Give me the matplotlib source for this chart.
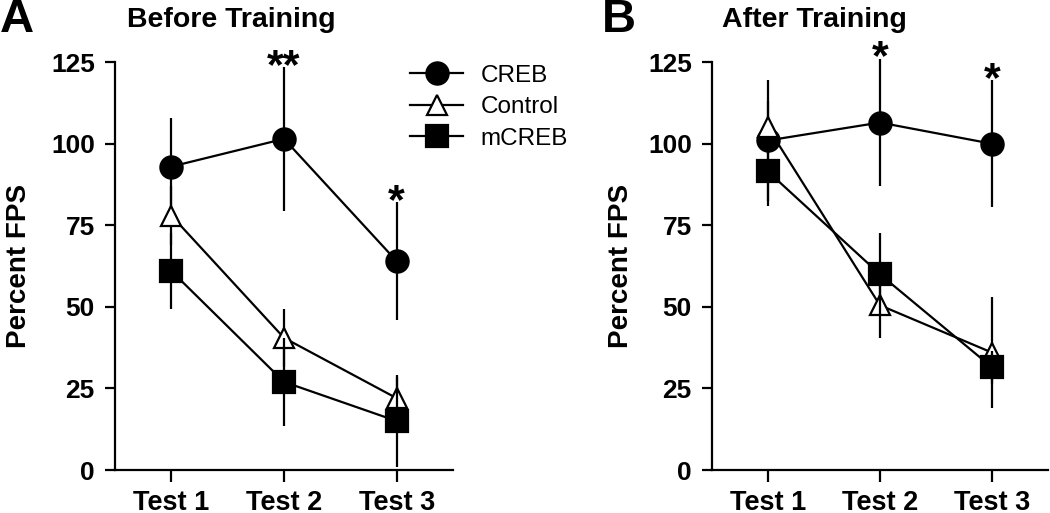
import matplotlib
matplotlib.use("Agg")
import matplotlib.pyplot as plt
from matplotlib.lines import Line2D
import numpy as np

plt.rcParams['font.family'] = ['Liberation Sans', 'DejaVu Sans']

tests = ['Test 1', 'Test 2', 'Test 3']
groups = ['CREB', 'Control', 'mCREB']

# before training (panel A)
before_mean = {'CREB': [93, 101.5, 64],
               'Control': [78, 40.5, 22],
               'mCREB': [61, 27, 15]}
before_err = {'CREB': [15, 22, 18],
              'Control': [9, 9, 6.5],
              'mCREB': [11.5, 13.5, 14]}
before_stars = ['', '**', '*']

# after training (panel B)
after_mean = {'CREB': [101, 106.5, 100],
              'Control': [105, 50.5, 36],
              'mCREB': [91.5, 60, 31.5]}
after_err = {'CREB': [18.5, 19.5, 19.5],
             'Control': [8, 10, 17],
             'mCREB': [10.5, 12.5, 5]}
after_stars = ['', '*', '*']

styles = {'CREB': dict(marker='o', mfc='black', ms=16),
          'Control': dict(marker='^', mfc='white', ms=15),
          'mCREB': dict(marker='s', mfc='black', ms=15.5)}

fig = plt.figure(figsize=(10.5, 5.13), dpi=100)
axA = fig.add_axes([0.1095, 0.0838, 0.322, 0.795])
axB = fig.add_axes([0.678, 0.0838, 0.32, 0.795])


def draw(ax, means, errs, stars, pad):
    x = np.arange(1, len(tests) + 1)
    for i, g in enumerate(groups):
        st = styles[g]
        ax.errorbar(x, means[g], yerr=errs[g], color='black', lw=1.6,
                    elinewidth=1.6, capsize=0, marker=st['marker'],
                    mfc=st['mfc'], mec='black', mew=1.6, ms=st['ms'],
                    clip_on=False, zorder=3 + i)
    top = np.array(means['CREB']) + np.array(errs['CREB'])
    for xi, t, s in zip(x, top, stars):
        if s:
            ax.text(xi, t - 6, s, ha='center', va='bottom', fontsize=31,
                    fontweight='bold')
    ax.set_xlim(0.5, 3.5)
    ax.set_ylim(0, 125)
    ax.set_yticks([0, 25, 50, 75, 100, 125])
    ax.set_xticks(x)
    ax.set_xticklabels(tests)
    for sp in ['top', 'right']:
        ax.spines[sp].set_visible(False)
    for sp in ['left', 'bottom']:
        ax.spines[sp].set_linewidth(1.6)
    ax.tick_params(axis='both', direction='out', width=1.6, pad=7)
    ax.tick_params(axis='y', labelsize=19, length=7.5)
    ax.tick_params(axis='x', labelsize=19.5, length=8.5, pad=6)
    for lab in ax.get_xticklabels() + ax.get_yticklabels():
        lab.set_fontweight('bold')
    ax.set_ylabel('Percent FPS', fontsize=20, fontweight='bold', labelpad=pad)


draw(axA, before_mean, before_err, before_stars, 14)
draw(axB, after_mean, after_err, after_stars, 10)

handles = [Line2D([], [], color='black', lw=1.6, marker=styles[g]['marker'],
                  mfc=styles[g]['mfc'], mec='black', mew=1.6,
                  ms=styles[g]['ms']) for g in groups]
axA.legend(handles, groups, loc='upper left', bbox_to_anchor=(0.3905, 0.874),
           bbox_transform=fig.transFigure, frameon=False, fontsize=17.5,
           handlelength=2.2, handletextpad=0.7, labelspacing=0.39,
           borderaxespad=0, borderpad=0)

fig.text(127 / 1050, 1 - 20 / 513, 'Before Training', fontsize=20.5,
         fontweight='bold', va='center', ha='left')
fig.text(722 / 1050, 1 - 20 / 513, 'After Training', fontsize=20.5,
         fontweight='bold', va='center', ha='left')
fig.text(0.0, 1 - 20 / 513, 'A', fontsize=34, fontweight='bold',
         va='center', ha='left')
fig.text(602 / 1050, 1 - 20 / 513, 'B', fontsize=34, fontweight='bold',
         va='center', ha='left')

fig.savefig('out.png', dpi=100)
